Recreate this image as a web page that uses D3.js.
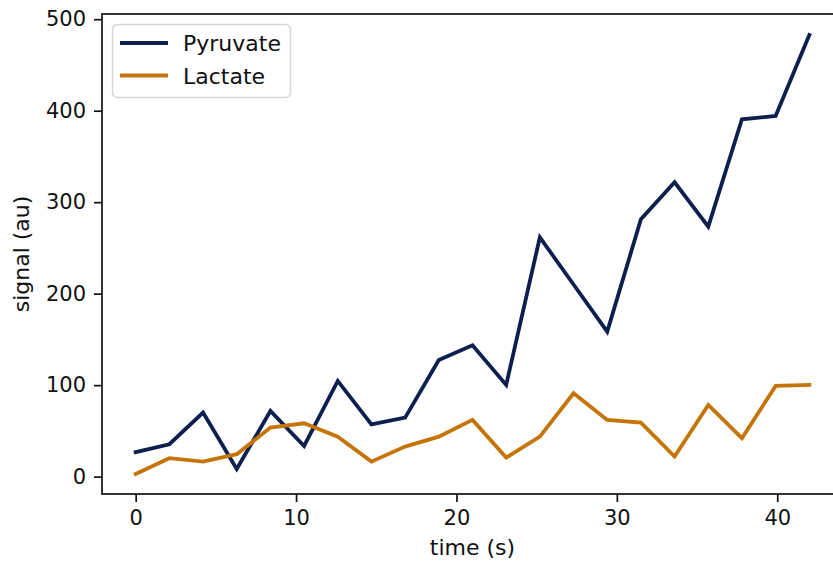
<!DOCTYPE html>
<html>
<head>
<meta charset="utf-8">
<script src="https://cdn.jsdelivr.net/npm/d3@7"></script>
<style>
  html, body { margin: 0; padding: 0; background: #fff; }
  svg { display: block; }
  text { font-family: "DejaVu Sans", sans-serif; fill: #111; }
</style>
</head>
<body>
<svg id="chart" width="833" height="564"></svg>
<script>
// Sampling times (s)
const times = [0, 2.1, 4.2, 6.3, 8.4, 10.5, 12.6, 14.7, 16.8, 18.9, 21, 23.1, 25.2, 27.3, 29.4, 31.5, 33.6, 35.7, 37.8, 39.9, 42];

// Signal per metabolite (au)
const pyruvate = [26.7, 35.4, 70, 8.4, 71.8, 33.5, 104.6, 57.2, 64.5, 127.5, 143.6, 100.2, 261.6, 210, 158.5, 281.3, 321.7, 273.2, 390.6, 394.2, 482.7];
const lactate  = [2.9, 20.1, 16.4, 24.5, 53.6, 58.3, 43.7, 16.4, 32.8, 43.7, 62, 20.8, 43.7, 91.1, 62, 59, 21.9, 78.4, 42, 99.1, 100.2];

const seriesNames = ["Pyruvate", "Lactate"];
const seriesColors = ["#0c1f4e", "#c57508"];

const xTicks = [0, 10, 20, 30, 40];
const yTicks = [0, 100, 200, 300, 400, 500];

const svg = d3.select("#chart");
const margin = { left: 102, top: 14, right: -10, bottom: 70 };
const W = 833, H = 564;

const xDomain = [-2.1, 44.1], yDomain = [-19, 505.7];
const x = d3.scaleLinear().domain(xDomain).range([margin.left, W - margin.right]);
const y = d3.scaleLinear().domain(yDomain).range([H - margin.bottom, margin.top]);

const series = [pyruvate, lactate].map((vals, i) => ({
  name: seriesNames[i],
  color: seriesColors[i],
  points: times.map((t, j) => ({ t, v: vals[j] }))
}));

const line = d3.line().x(d => x(d.t)).y(d => y(d.v));

// data lines
svg.append("g").selectAll("path").data(series).join("path")
  .attr("d", d => line(d.points))
  .attr("fill", "none")
  .attr("stroke", d => d.color)
  .attr("stroke-width", 3.8)
  .attr("stroke-linejoin", "miter")
  .attr("stroke-linecap", "square");

// axes
const tickLen = 8, tickPad = 8;
const xAxis = svg.append("g")
  .attr("transform", `translate(0,${y(yDomain[0])})`)
  .call(d3.axisBottom(x).tickValues(xTicks).tickFormat(d3.format("d"))
    .tickSizeInner(tickLen).tickSizeOuter(0).tickPadding(tickPad));
const yAxis = svg.append("g")
  .attr("transform", `translate(${x(xDomain[0])},0)`)
  .call(d3.axisLeft(y).tickValues(yTicks).tickFormat(d3.format("d"))
    .tickSizeInner(tickLen).tickSizeOuter(0).tickPadding(tickPad));

[xAxis, yAxis].forEach(a => {
  a.selectAll(".domain").remove();
  a.selectAll(".tick line").attr("stroke", "#111").attr("stroke-width", 1.7);
  a.selectAll(".tick text")
    .attr("font-size", 21)
    .attr("font-family", "DejaVu Sans, sans-serif")
    .attr("fill", "#111");
});

// frame (spines)
svg.append("rect")
  .attr("x", x(xDomain[0])).attr("y", y(yDomain[1]))
  .attr("width", x(xDomain[1]) - x(xDomain[0])).attr("height", y(yDomain[0]) - y(yDomain[1]))
  .attr("fill", "none").attr("stroke", "#111").attr("stroke-width", 1.7);

// axis titles
svg.append("text")
  .attr("x", (x(xDomain[0]) + x(xDomain[1])) / 2)
  .attr("y", 555)
  .attr("text-anchor", "middle")
  .attr("font-size", 22)
  .text("time (s)");

svg.append("text")
  .attr("transform", `translate(29,${(y(yDomain[0]) + y(yDomain[1])) / 2}) rotate(-90)`)
  .attr("text-anchor", "middle")
  .attr("font-size", 22)
  .text("signal (au)");

// legend
const lg = svg.append("g");
lg.append("rect")
  .attr("x", 112.5).attr("y", 24.5).attr("width", 178).attr("height", 73)
  .attr("rx", 5).attr("fill", "#fff").attr("fill-opacity", 0.8)
  .attr("stroke", "#d6d6d6").attr("stroke-width", 1.5);
const items = lg.selectAll("g.item").data(series).join("g")
  .attr("class", "item")
  .attr("transform", (d, i) => `translate(0,${43 + i * 32.5})`);
items.append("line")
  .attr("x1", 120).attr("x2", 168)
  .attr("stroke", d => d.color).attr("stroke-width", 4);
items.append("text")
  .attr("x", 183).attr("y", 8)
  .attr("font-size", 22)
  .text(d => d.name);
</script>
</body>
</html>
